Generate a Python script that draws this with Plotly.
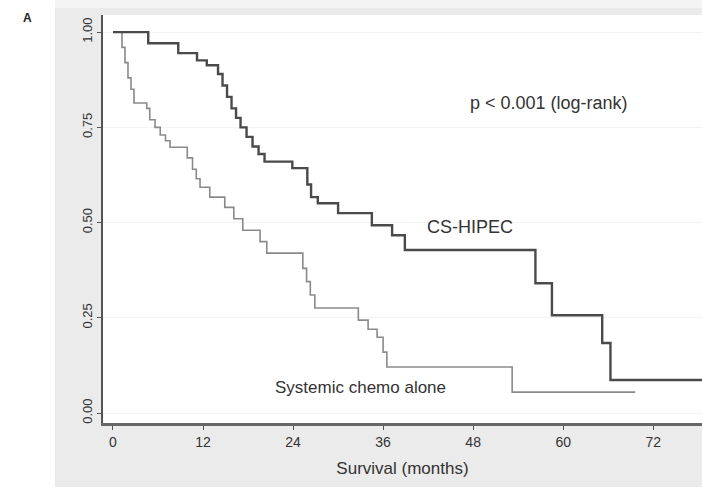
import plotly.graph_objects as go

# Kaplan-Meier step data (months, survival probability)
hipec_t = [0, 4.7, 8.7, 11.2, 12.5, 14.0, 14.6, 15.2, 15.8, 16.4, 17.0, 17.8, 18.6, 19.4, 20.2,
           23.9, 25.9, 26.4, 27.3, 30.0, 34.5, 37.2, 38.9, 56.3, 58.5, 65.2, 66.3, 78.5]
hipec_s = [1.0, 0.971, 0.945, 0.926, 0.913, 0.89, 0.86, 0.83, 0.80, 0.775, 0.75, 0.725, 0.70, 0.68, 0.66,
           0.643, 0.60, 0.567, 0.551, 0.525, 0.493, 0.467, 0.428, 0.341, 0.257, 0.184, 0.087, 0.087]

chemo_t = [0, 1.2, 1.6, 2.0, 2.4, 2.8, 4.5, 4.9, 5.6, 6.3, 7.0, 7.6, 9.9, 10.6, 11.1, 11.6, 12.9,
           14.9, 16.1, 17.3, 19.6, 20.5, 25.3, 25.8, 26.3, 26.9, 32.7, 34.0, 35.2, 36.0, 36.5, 53.2, 69.6]
chemo_s = [1.0, 0.96, 0.92, 0.88, 0.85, 0.814, 0.80, 0.77, 0.75, 0.73, 0.715, 0.698, 0.67, 0.64, 0.615,
           0.593, 0.567, 0.54, 0.51, 0.48, 0.45, 0.42, 0.38, 0.345, 0.31, 0.276, 0.244, 0.22, 0.199,
           0.16, 0.121, 0.055, 0.055]

x_ticks = [0, 12, 24, 36, 48, 60, 72]
y_ticks = [0.0, 0.25, 0.50, 0.75, 1.0]
y_tick_text = ["0.00", "0.25", "0.50", "0.75", "1.00"]

FONT = "Liberation Sans, Arial, sans-serif"
W, H = 702, 491
L, R, T, B = 103, 0, 15, 68
PW, PH = W - L - R, H - T - B


def px(x):
    return (x - L) / PW


def py(y):
    return 1 - (y - T) / PH


fig = go.Figure()
fig.add_trace(go.Scatter(x=chemo_t, y=chemo_s, mode="lines", line_shape="hv",
                         line=dict(color="#8a8a8a", width=1.6), name="Systemic chemo alone"))
fig.add_trace(go.Scatter(x=hipec_t, y=hipec_s, mode="lines", line_shape="hv",
                         line=dict(color="#4a4a4a", width=2.4), name="CS-HIPEC"))

fig.update_layout(
    width=W, height=H,
    margin=dict(l=L, r=R, t=T, b=B),
    paper_bgcolor="#ebebeb", plot_bgcolor="white",
    showlegend=False,
    font=dict(family=FONT, color="#3a3a3a"),
    shapes=[
        dict(type="rect", xref="paper", yref="paper", layer="below",
             x0=px(0), x1=px(55), y0=py(H), y1=py(0),
             fillcolor="white", line=dict(width=0)),
        dict(type="rect", xref="paper", yref="paper", layer="below",
             x0=px(0), x1=px(W), y0=py(H), y1=py(487),
             fillcolor="white", line=dict(width=0)),
        dict(type="rect", xref="paper", yref="paper", layer="below",
             x0=px(55), x1=px(W), y0=py(8), y1=py(0),
             fillcolor="#f4f4f4", line=dict(width=0)),
    ],
    xaxis=dict(range=[-1.33, 78.5], tickvals=x_ticks, ticks="outside", ticklen=4,
               tickcolor="#555", showline=True, linecolor="#666", linewidth=2.5,
               showgrid=False, zeroline=False, tickfont=dict(size=14, color="#333"),
               title=dict(text="Survival (months)", font=dict(size=17, color="#333"), standoff=14)),
    yaxis=dict(range=[-0.026, 1.045], tickvals=y_ticks, ticktext=y_tick_text, ticks="outside",
               ticklen=4, tickcolor="#555", showline=True, linecolor="#555", linewidth=2,
               tickangle=-90, showgrid=True, gridcolor="#f3f3f3", zeroline=False,
               tickfont=dict(size=13, color="#333")),
    annotations=[
        dict(text="p < 0.001 (log-rank)", x=px(549), y=py(103), xref="paper", yref="paper",
             xanchor="center", yanchor="middle",
             showarrow=False, font=dict(size=18, color="#333")),
        dict(text="CS-HIPEC", x=px(470), y=py(227), xref="paper", yref="paper",
             xanchor="center", yanchor="middle",
             showarrow=False, font=dict(size=18, color="#333")),
        dict(text="Systemic chemo alone", x=px(360), y=py(387), xref="paper", yref="paper",
             xanchor="center", yanchor="middle",
             showarrow=False, font=dict(size=17, color="#333")),
        dict(text="<b>A</b>", x=px(27), y=py(18), xref="paper", yref="paper",
             xanchor="center", yanchor="middle",
             showarrow=False, font=dict(size=12, color="#222")),
    ],
)

fig.write_html("out.html")
